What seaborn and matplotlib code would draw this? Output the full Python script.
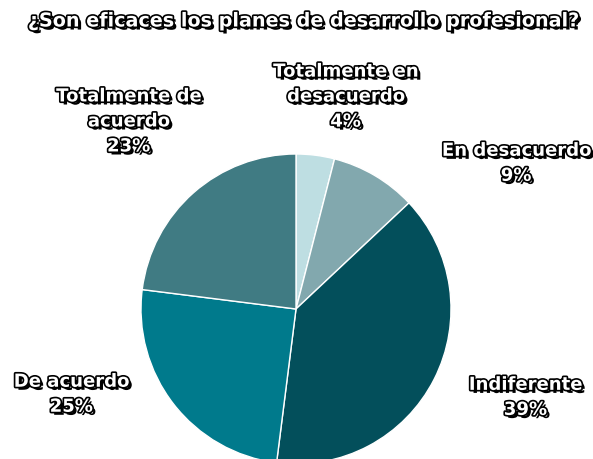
import matplotlib
matplotlib.use("Agg")
import matplotlib.pyplot as plt
import matplotlib.patheffects as pe
import seaborn as sns

sns.set_style("white")
plt.rcParams["font.family"] = ["DejaVu Sans"]

categories = ["Totalmente en\ndesacuerdo", "En desacuerdo", "Indiferente",
              "De acuerdo", "Totalmente de\nacuerdo"]
values = [4, 9, 39, 25, 23]
colors = sns.color_palette(["#bedee2", "#82a8ae", "#034f5b", "#007a8c", "#407b83"])

# label anchor points in pie data units (radius = 1)
label_pos = [(0.32, 1.37), (1.42, 0.94), (1.48, -0.57), (-1.45, -0.55), (-1.08, 1.21)]

fig = plt.figure(figsize=(5.93, 4.60), dpi=100)
R = 155
cx, cy = 296, 460 - 310
ax = fig.add_axes([(cx - R) / 593, (cy - R) / 460, 2 * R / 593, 2 * R / 460])

ax.pie(values, colors=colors, startangle=90, counterclock=False,
       wedgeprops=dict(edgecolor="white", linewidth=1))
ax.set_xlim(-1, 1)
ax.set_ylim(-1, 1)
ax.set_aspect("equal")
ax.axis("off")

effects = [pe.SimplePatchShadow(offset=(2.2, -2.2), shadow_rgbFace="black", alpha=1.0),
           pe.Stroke(linewidth=2.4, foreground="black"), pe.Normal()]

text_kw = dict(color="white", fontweight="bold", ha="center", va="center",
               linespacing=1.5, path_effects=effects)

for cat, val, (lx, ly) in zip(categories, values, label_pos):
    ax.text(lx, ly, f"{cat}\n{val}%", clip_on=False, fontsize=13, **text_kw)

fig.text(304 / 593, 1 - 22 / 460, "¿Son eficaces los planes de desarrollo profesional?",
         fontsize=13.8, **text_kw)

fig.savefig("out.png", dpi=100, facecolor="white")
